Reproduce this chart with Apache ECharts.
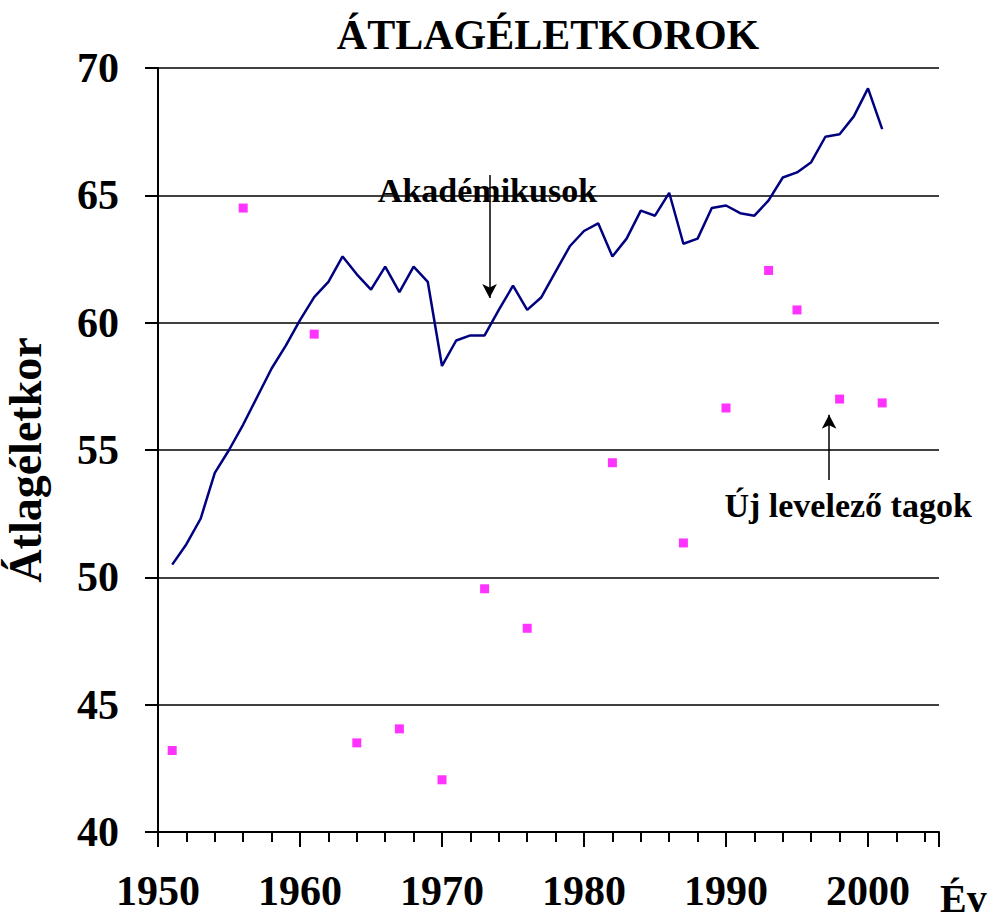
<!DOCTYPE html>
<html>
<head>
<meta charset="utf-8">
<script src="https://cdn.jsdelivr.net/npm/echarts@6/dist/echarts.min.js"></script>
<style>
html, body { margin: 0; padding: 0; background: #fff; }
#chart { width: 988px; height: 923px; }
</style>
</head>
<body>
<div id="chart"></div>
<script>
// Akadémikusok átlagéletkora évenként
const akadYears = [1951, 1952, 1953, 1954, 1955, 1956, 1957, 1958, 1959, 1960,
  1961, 1962, 1963, 1964, 1965, 1966, 1967, 1968, 1969, 1970,
  1971, 1972, 1973, 1974, 1975, 1976, 1977, 1978, 1979, 1980,
  1981, 1982, 1983, 1984, 1985, 1986, 1987, 1988, 1989, 1990,
  1991, 1992, 1993, 1994, 1995, 1996, 1997, 1998, 1999, 2000, 2001];
const akadValues = [50.5, 51.3, 52.3, 54.1, 55.0, 56.0, 57.1, 58.2, 59.1, 60.1,
  61.0, 61.6, 62.6, 61.9, 61.3, 62.2, 61.2, 62.2, 61.6, 58.3,
  59.3, 59.5, 59.5, 60.5, 61.45, 60.5, 61.0, 62.0, 63.0, 63.6,
  63.9, 62.6, 63.3, 64.4, 64.2, 65.1, 63.1, 63.3, 64.5, 64.6,
  64.3, 64.2, 64.8, 65.7, 65.9, 66.3, 67.3, 67.4, 68.1, 69.2, 67.6];

// Új levelező tagok átlagéletkora
const ujYears = [1951, 1956, 1961, 1964, 1967, 1970, 1973, 1976, 1982, 1987, 1990, 1993, 1995, 1998, 2001];
const ujValues = [43.2, 64.5, 59.55, 43.5, 44.05, 42.05, 49.55, 48.0, 54.5, 51.35, 56.65, 62.05, 60.5, 57.0, 56.85];

const yearTicks = [1950, 1960, 1970, 1980, 1990, 2000];

const FONT = "'Liberation Serif', 'Times New Roman', serif";

let chart = echarts.init(document.getElementById('chart'), null, {renderer: 'svg'});

chart.setOption({
  animation: false,
  backgroundColor: '#fff',
  title: {
    text: 'ÁTLAGÉLETKOROK',
    left: 543,
    textAlign: 'center',
    top: 9,
    textStyle: { fontFamily: FONT, fontWeight: 'bold', fontSize: 42, color: '#000' }
  },
  grid: { left: 158, right: 49, top: 68, bottom: 91, outerBoundsMode: 'none', containLabel: false },
  xAxis: {
    type: 'value',
    min: 1950,
    max: 2005,
    interval: 10,
    axisLine: { lineStyle: { color: '#000', width: 2 } },
    axisTick: { show: true, length: 15, lineStyle: { color: '#000', width: 2 } },
    minorTick: { show: true, splitNumber: 5, length: 10, lineStyle: { color: '#000', width: 2 } },
    axisLabel: {
      customValues: yearTicks,
      formatter: v => String(v),
      margin: 38,
      fontFamily: FONT, fontWeight: 'bold', fontSize: 42, color: '#000'
    },
    splitLine: { show: false }
  },
  yAxis: {
    type: 'value',
    min: 40,
    max: 70,
    interval: 5,
    name: 'Átlagéletkor',
    nameLocation: 'middle',
    nameRotate: 90,
    nameGap: 110,
    nameTextStyle: {
      fontFamily: FONT, fontWeight: 'bold', fontSize: 46, color: '#000',
      padding: [0, 20, 0, 0]
    },
    axisLine: { show: true, lineStyle: { color: '#000', width: 2 } },
    axisTick: { show: true, length: 13, lineStyle: { color: '#000', width: 2 } },
    axisLabel: { margin: 39, fontFamily: FONT, fontWeight: 'bold', fontSize: 42, color: '#000' },
    splitLine: { show: true, lineStyle: { color: '#000', width: 1.5 } }
  },
  graphic: [{
    type: 'text',
    left: 940,
    top: 878,
    style: { text: 'Év', fontFamily: FONT, fontWeight: 'bold', fontSize: 40, fill: '#000' }
  }],
  series: [
    {
      name: 'Akadémikusok',
      type: 'line',
      data: akadYears.map((y, i) => [y, akadValues[i]]),
      showSymbol: false,
      lineStyle: { color: '#000080', width: 2.5 },
      itemStyle: { color: '#000080' },
      markLine: {
        silent: true,
        symbol: ['none', 'arrow'],
        symbolSize: [11, 14],
        lineStyle: { color: '#000', width: 1.5, type: 'solid' },
        label: { show: false },
        data: [
          [{ coord: [1973.35, 65.8] }, { coord: [1973.35, 60.97] }],
          [{ coord: [1997.26, 53.82] }, { coord: [1997.26, 56.38] }]
        ]
      },
      markPoint: {
        silent: true,
        symbol: 'circle',
        symbolSize: 1,
        itemStyle: { color: 'rgba(0,0,0,0)' },
        label: {
          show: true, position: 'inside', formatter: '{b}',
          fontFamily: FONT, fontWeight: 'bold', fontSize: 34, color: '#000'
        },
        data: [
          { name: 'Akadémikusok', coord: [1973.2, 65.2] },
          { name: 'Új levelező tagok', coord: [1998.6, 52.84] }
        ]
      }
    },
    {
      name: 'Új levelező tagok',
      type: 'scatter',
      data: ujYears.map((y, i) => [y, ujValues[i]]),
      symbol: 'rect',
      symbolSize: 9,
      itemStyle: { color: '#ff00ff' }
    }
  ]
});
</script>
</body>
</html>
